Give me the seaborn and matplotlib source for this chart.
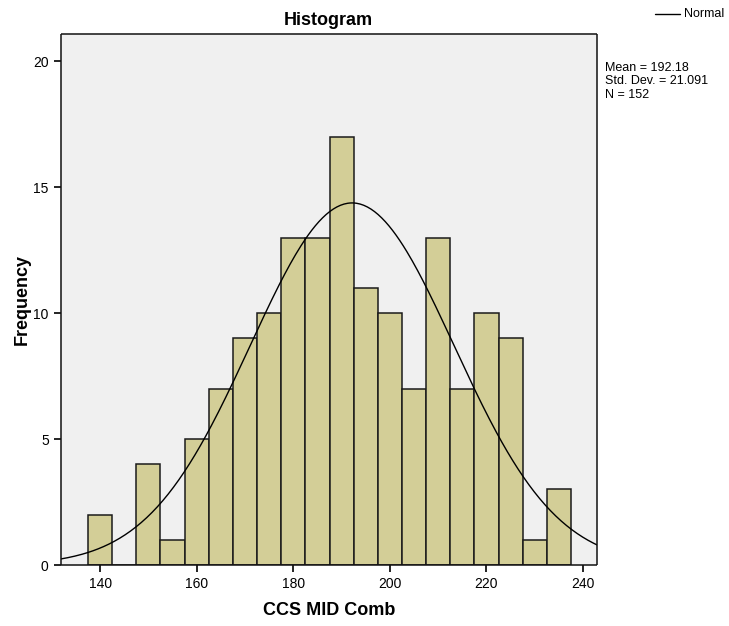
import numpy as np
import pandas as pd
import seaborn as sns
import matplotlib.pyplot as plt

# bin centres (width 5) and the counts
bin_centers = [140, 145, 150, 155, 160, 165, 170, 175, 180, 185,
               190, 195, 200, 205, 210, 215, 220, 225, 230, 235]
counts = [2, 0, 4, 1, 5, 7, 9, 10, 13, 13,
          17, 11, 10, 7, 13, 7, 10, 9, 1, 3]
bin_width = 5
mean_val = 192.18
sd_val = 21.091
n_obs = 152

x_ticks = [140, 160, 180, 200, 220, 240]
y_ticks = [0, 5, 10, 15, 20]

df = pd.DataFrame({"CCS MID Comb": bin_centers, "count": counts})
edges = [c - bin_width / 2 for c in bin_centers] + [bin_centers[-1] + bin_width / 2]

sns.set_style("ticks")
plt.rcParams["font.family"] = ["Liberation Sans", "DejaVu Sans"]
plt.rcParams["text.color"] = "black"
plt.rcParams["axes.labelcolor"] = "black"
plt.rcParams["xtick.color"] = "black"
plt.rcParams["ytick.color"] = "black"

fig = plt.figure(figsize=(7.29, 6.26), dpi=100)
ax = fig.add_axes([0.083, 0.0974, 0.736, 0.849])
ax.set_facecolor("#F0F0F0")

sns.histplot(data=df, x="CCS MID Comb", weights="count", bins=edges,
             color="#D3CE97", edgecolor="#1a1a1a", linewidth=1.1, alpha=1, ax=ax)

# fitted normal curve scaled to the histogram
xs = np.linspace(131.8, 242.9, 300)
ys = n_obs * bin_width * np.exp(-0.5 * ((xs - mean_val) / sd_val) ** 2) / (sd_val * np.sqrt(2 * np.pi))
sns.lineplot(x=xs, y=ys, color="black", linewidth=1, ax=ax)

ax.set_xlim(131.8, 242.9)
ax.set_ylim(0, 21.1)
ax.set_xticks(x_ticks)
ax.set_yticks(y_ticks)
ax.tick_params(axis="both", labelsize=10, length=5, width=1.2, colors="black", direction="out")
for side in ["left", "bottom", "top", "right"]:
    ax.spines[side].set_visible(True)
    ax.spines[side].set_color("#111111")
    ax.spines[side].set_linewidth(1.1)
    ax.spines[side].set_capstyle("butt")

ax.set_title("Histogram", fontsize=13, fontweight="bold", pad=6, color="black")
ax.set_xlabel("CCS MID Comb", fontsize=13, fontweight="bold", labelpad=8)
ax.set_ylabel("Frequency", fontsize=13, fontweight="bold", labelpad=2)

# legend-like entry and summary stats on the right
fig.lines.append(plt.Line2D([655 / 729, 680 / 729], [1 - 14 / 626, 1 - 14 / 626],
                            color="black", linewidth=1, transform=fig.transFigure))
fig.text(684 / 729, 1 - 14 / 626, "Normal", fontsize=9, va="center", ha="left")
fig.text(605 / 729, 1 - 62 / 626,
         f"Mean = {mean_val}\nStd. Dev. = {sd_val}\nN = {n_obs}",
         fontsize=9, va="top", ha="left", linespacing=1.15)

fig.savefig("out.png", dpi=100)
